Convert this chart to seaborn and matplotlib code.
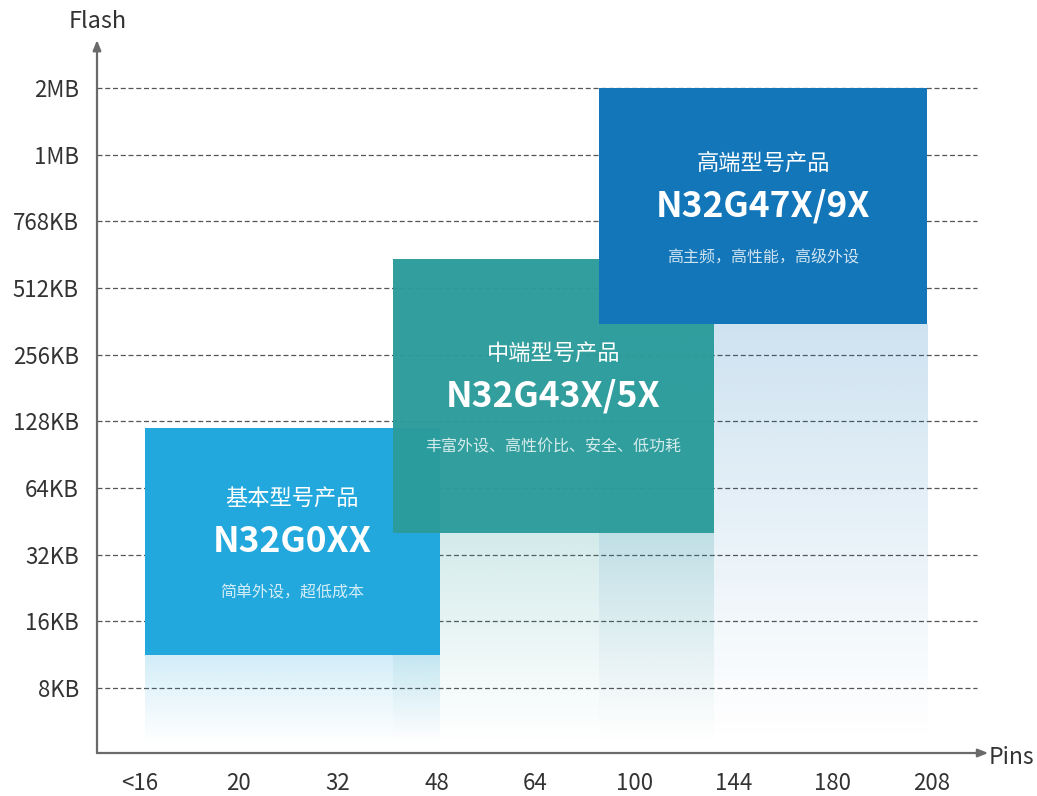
import matplotlib

matplotlib.use("Agg")

import matplotlib.pyplot as plt
import matplotlib.colors as mcolors
import numpy as np
import seaborn as sns

# axis categories
pins = ["<16", "20", "32", "48", "64", "100", "144", "180", "208"]
flash = ["8KB", "16KB", "32KB", "64KB", "128KB", "256KB", "512KB", "768KB", "1MB", "2MB"]

# product families (extent in category index units)
tiers = ["基本型号产品", "中端型号产品", "高端型号产品"]
models = ["N32G0XX", "N32G43X/5X", "N32G47X/9X"]
descs = ["简单外设，超低成本", "丰富外设、高性价比、安全、低功耗", "高主频，高性能，高级外设"]
pin_start = [0.05, 2.56, 4.64]
pin_end = [3.03, 5.80, 7.96]
flash_low = [0.50, 2.33, 5.46]
flash_high = [3.90, 6.43, 9.00]
colors = ["#23a8dd", "#2b9c9b", "#1276b9"]

sns.set_theme(style="white")
plt.rcParams["font.family"] = ["Noto Sans CJK SC", "DejaVu Sans"]

W, H = 1037, 796
fig = plt.figure(figsize=(W / 100, H / 100), dpi=100)
# axes rect from pixel layout
left, right, bottom, top = 97, 990, 753, 40
ax = fig.add_axes([left / W, 1 - bottom / H, (right - left) / W, (bottom - top) / H])
ax.set_xlim(-0.435, 8.595)
ax.set_ylim(-0.975, 9.72)
y_floor = -0.85

# dashed grid lines
for i in range(len(flash)):
    ax.axhline(i, xmin=0, xmax=0.985, color="#555555", lw=0.9,
               linestyle=(0, (4, 2.2)), zorder=1)

# fading gradients under each box
for x0, x1, lo, c in zip(pin_start, pin_end, flash_low, colors):
    rgb = mcolors.to_rgb(c)
    n = 256
    grad = np.zeros((n, 1, 4))
    grad[:, 0, :3] = rgb
    grad[:, 0, 3] = np.linspace(0.24, 0.0, n) ** 1.1
    ax.imshow(grad, extent=(x0, x1, y_floor, lo), origin="upper",
              aspect="auto", interpolation="bilinear", zorder=2)

# boxes
alphas = [1.0, 0.97, 1.0]
for x0, x1, lo, hi, c, a in zip(pin_start, pin_end, flash_low, flash_high, colors, alphas):
    ax.bar((x0 + x1) / 2, hi - lo, width=x1 - x0, bottom=lo, color=c,
           alpha=a, edgecolor="none", zorder=3)

# labels inside boxes
for x0, x1, lo, hi, t, m, d in zip(pin_start, pin_end, flash_low, flash_high, tiers, models, descs):
    cx, cy = (x0 + x1) / 2, (lo + hi) / 2
    ax.annotate(t, (cx, cy), xytext=(0, 31), textcoords="offset points",
                ha="center", va="center", color="white", fontsize=16, zorder=5)
    ax.annotate(m, (cx, cy), xytext=(0, 0), textcoords="offset points",
                ha="center", va="center", color="white", fontsize=25.5,
                fontweight="bold", zorder=5)
    ax.annotate(d, (cx, cy), xytext=(0, -37), textcoords="offset points",
                ha="center", va="center", color="white", alpha=0.8,
                fontsize=11.5, zorder=5)

ax.set_xticks(range(len(pins)))
ax.set_xticklabels(pins)
ax.set_yticks(range(len(flash)))
ax.set_yticklabels(flash)
ax.tick_params(axis="x", length=0, pad=14, labelsize=16, labelcolor="#333333")
ax.tick_params(axis="y", length=0, pad=13, labelsize=16, labelcolor="#333333")

sns.despine(ax=ax, top=True, right=True, left=True, bottom=True)

# axis lines with arrows
axis_col = "#6a6a6a"
ax.annotate("", xy=(0, 1.0), xytext=(0, 0), xycoords="axes fraction",
            arrowprops=dict(arrowstyle="-|>,head_length=0.5,head_width=0.2",
                            color=axis_col, lw=1.6, shrinkA=0, shrinkB=0))
ax.annotate("", xy=(0.998, 0), xytext=(0, 0), xycoords="axes fraction",
            arrowprops=dict(arrowstyle="-|>,head_length=0.5,head_width=0.2",
                            color=axis_col, lw=1.6, shrinkA=0, shrinkB=0))

fig.text(98 / W, 1 - 22 / H, "Flash", ha="center", va="center",
         fontsize=17, color="#333333")
fig.text(1011 / W, 1 - 757 / H, "Pins", ha="center", va="center",
         fontsize=16.5, color="#333333")

fig.savefig("out.png", dpi=100)
